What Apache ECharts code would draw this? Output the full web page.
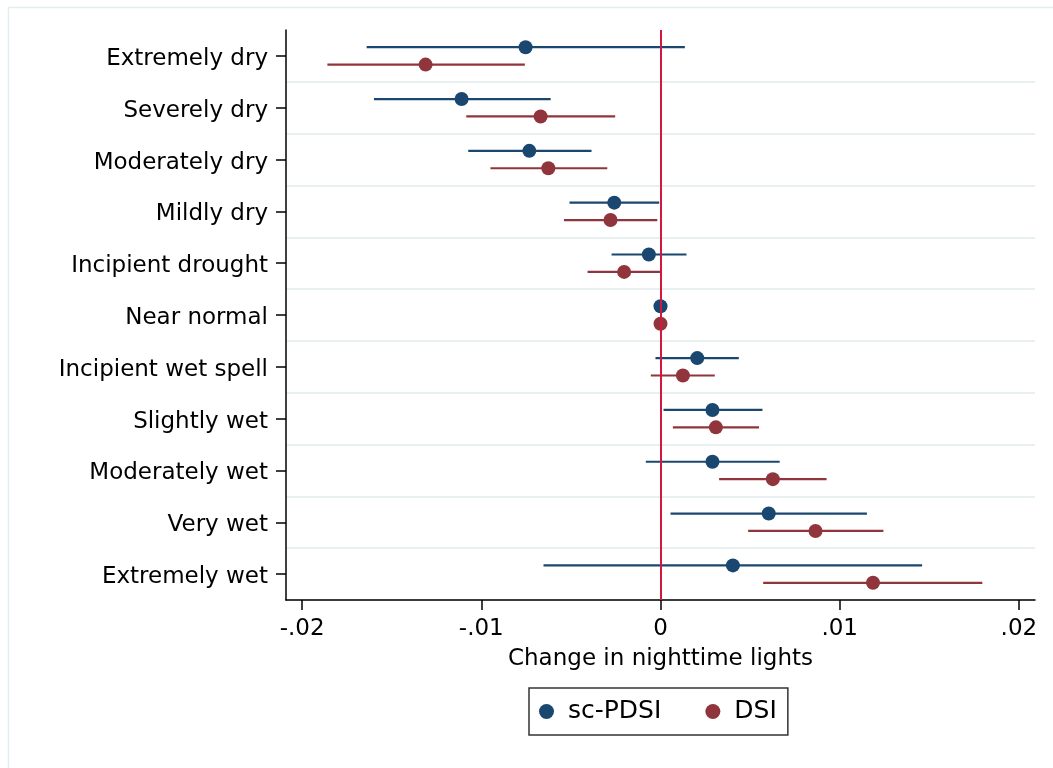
<!DOCTYPE html>
<html>
<head>
<meta charset="utf-8">
<script src="https://cdn.jsdelivr.net/npm/echarts@6/dist/echarts.min.js"></script>
<style>html,body{margin:0;padding:0;background:#fff;}#c{width:1053px;height:768px;}</style>
</head>
<body>
<div id="c"></div>
<script>
var categories = ['Extremely dry','Severely dry','Moderately dry','Mildly dry','Incipient drought','Near normal','Incipient wet spell','Slightly wet','Moderately wet','Very wet','Extremely wet'];
var pdsiEst = [-0.00753,-0.01110,-0.00732,-0.00258,-0.00065,0,0.00205,0.00290,0.00290,0.00604,0.00404];
var pdsiLo  = [-0.01640,-0.01599,-0.01073,-0.00508,-0.00273,0,-0.00028,0.00017,-0.00082,0.00056,-0.00653];
var pdsiHi  = [0.00136,-0.00613,-0.00385,-0.00007,0.00145,0,0.00437,0.00569,0.00665,0.01152,0.01460];
var dsiEst  = [-0.01311,-0.00669,-0.00626,-0.00279,-0.00203,0,0.00125,0.00309,0.00627,0.00865,0.01186];
var dsiLo   = [-0.01859,-0.01084,-0.00949,-0.00539,-0.00407,0,-0.00054,0.00069,0.00327,0.00489,0.00573];
var dsiHi   = [-0.00757,-0.00253,-0.00297,-0.00018,0,0,0.00303,0.00550,0.00927,0.01244,0.01796];
var xTickValues = [-0.02,-0.01,0,0.01,0.02];
var xTickLabels = ['-.02','-.01','0','.01','.02'];
var seriesNames = ['sc-PDSI','DSI'];

var FONT = 'DejaVu Sans';
var NAVY = '#1a476f', MAROON = '#90353b', RED = '#d4173e';

function build(est, lo, hi){
  return est.map(function(v,i){ return [v, i, lo[i], hi[i]]; });
}
function ciSeries(name, data, color, off){
  return {
    name: name, type: 'custom', z: 2,
    itemStyle: {color: color},
    encode: {x: [0,2,3], y: 1},
    data: data,
    renderItem: function(params, api){
      var a = api.coord([api.value(2), api.value(1)]);
      var b = api.coord([api.value(3), api.value(1)]);
      return {type:'line', shape:{x1:a[0], y1:a[1]+off, x2:b[0], y2:b[1]+off},
              style:{stroke: color, lineWidth: 2.2}};
    }
  };
}
function dotSeries(name, data, color, off){
  return {
    name: name, type: 'custom', z: 4,
    itemStyle: {color: color},
    encode: {x: 0, y: 1},
    data: data,
    renderItem: function(params, api){
      var p = api.coord([api.value(0), api.value(1)]);
      return {type:'circle', shape:{cx:p[0], cy:p[1]+off, r:7}, style:{fill: color}};
    }
  };
}
var pdsiData = build(pdsiEst, pdsiLo, pdsiHi);
var dsiData = build(dsiEst, dsiLo, dsiHi);

var chart = echarts.init(document.getElementById('c'));
chart.setOption({
  backgroundColor: '#fff',
  animation: false,
  textStyle: {fontFamily: FONT, color: '#000'},
  graphic: [{type:'rect', left: 6, top: 5, shape:{width: 1100, height: 900}, style:{fill:'none', stroke:'#e4edf0', lineWidth:1.5}, silent:true}],
  grid: {left: 286, right: 18, top: 30, bottom: 168, containLabel: false},
  legend: {
    data: seriesNames,
    left: 529, top: 688,
    orient: 'horizontal',
    icon: 'circle', itemWidth: 15, itemHeight: 15,
    itemGap: 44, itemTextGap: 14,
    padding: [11, 11, 11, 10],
    borderColor: '#333', borderWidth: 1.5, borderRadius: 0,
    textStyle: {fontFamily: FONT, fontSize: 25, color: '#000', padding: [0, 0, 0, 9]}
  },
  xAxis: {
    type: 'value', min: -0.0209, max: 0.0209,
    name: 'Change in nighttime lights', nameLocation: 'middle', nameGap: 48,
    nameTextStyle: {fontFamily: FONT, fontSize: 23, color: '#000'},
    axisLine: {show: true, lineStyle: {color: '#000', width: 1.5}},
    axisTick: {show: true, length: 10, customValues: xTickValues, lineStyle: {color:'#000', width: 1.5}},
    axisLabel: {customValues: xTickValues, margin: 18, fontFamily: FONT, fontSize: 23, color: '#000',
      formatter: function(v){
        for (var i=0;i<xTickValues.length;i++){ if (Math.abs(v - xTickValues[i]) < 1e-9) return xTickLabels[i]; }
        return '';
      }},
    splitLine: {show: false}
  },
  yAxis: {
    type: 'category', data: categories, inverse: true,
    axisLine: {show: true, onZero: false, lineStyle: {color: '#000', width: 1.5}},
    axisTick: {show: true, alignWithLabel: true, length: 10, lineStyle: {color:'#000', width: 1.5}},
    axisLabel: {margin: 18, color: '#000',
      formatter: function(v){ return '{a|' + v + '}'; },
      rich: {a: {fontFamily: FONT, fontSize: 23, color: '#000', padding: [6, 0, 0, 0]}}},
    splitLine: {show: true, lineStyle: {color: '#e8f0f2', width: 2},
      interval: function(i){ return i !== 0; }}
  },
  series: [
    ciSeries(seriesNames[0], pdsiData, NAVY, -8.7),
    ciSeries(seriesNames[1], dsiData, MAROON, 8.7),
    {
      type: 'custom', z: 3, data: [], renderItem: function(){ return null; },
      markLine: {silent: true, symbol: ['none','none'], label: {show: false},
        lineStyle: {color: RED, width: 2, type: 'solid'},
        data: [{xAxis: 0}]}
    },
    dotSeries(seriesNames[0], pdsiData, NAVY, -8.7),
    dotSeries(seriesNames[1], dsiData, MAROON, 8.7)
  ]
});
</script>
</body>
</html>
